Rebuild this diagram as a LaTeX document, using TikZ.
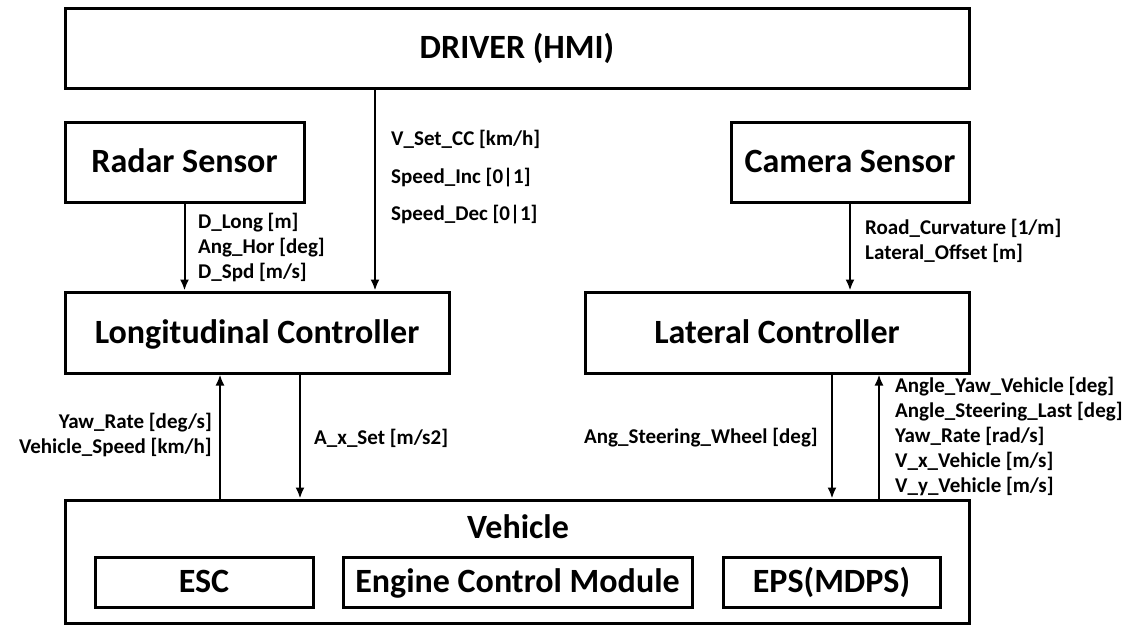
\documentclass[tikz,border=0pt]{standalone}
\usepackage{fontspec}
\setmainfont{Carlito}
\usetikzlibrary{arrows.meta}
\begin{document}
\begin{tikzpicture}[x=1pt,y=-1pt,
  blk/.style={draw=black,line width=3pt,rectangle,inner sep=0pt,
    text height=21.4pt,text depth=0pt,
    font=\fontsize{34}{38}\selectfont\bfseries},
  title/.style={inner sep=0pt,text height=21.4pt,text depth=0pt,
    font=\fontsize{34}{38}\selectfont\bfseries},
  sig/.style={line width=2pt,-{Latex[length=11pt,width=9pt]}},
  lbl/.style={inner sep=0pt,font=\fontsize{21}{25}\selectfont\bfseries},
  lblwide/.style={inner sep=0pt,font=\fontsize{21}{37.5}\selectfont\bfseries}]
\useasboundingbox (0,0) rectangle (1133,625);

% blocks
\node[blk,minimum width=904,minimum height=80] (drv) at (517,48) {DRIVER (HMI)};
\node[blk,minimum width=239,minimum height=80] (radar) at (184.5,162) {Radar Sensor};
\node[blk,minimum width=238,minimum height=80] (cam) at (850,162) {Camera Sensor};
\node[blk,minimum width=384,minimum height=81] (lon) at (257,332.5) {Longitudinal Controller};
\node[blk,minimum width=384,minimum height=81] (lat) at (777,332.5) {Lateral Controller};
\node[blk,minimum width=904,minimum height=123] (veh) at (517,561.5) {};
\node[title] (vehtitle) at (518,528) {Vehicle};
\node[blk,minimum width=218,minimum height=50] (esc) at (204,582) {ESC};
\node[blk,minimum width=349,minimum height=50] (ecm) at (517.5,582) {Engine Control Module};
\node[blk,minimum width=217,minimum height=50] (eps) at (831.5,582) {EPS(MDPS)};

% x positions of the signal lines
\coordinate (xdrv) at (375,0);
\coordinate (xup) at (220,0);
\coordinate (xdn) at (300,0);
\coordinate (xsteer) at (832,0);
\coordinate (xfb) at (879,0);

% signals
\draw[sig] (radar.south) -- (lon.north -| radar.south);
\draw[sig] (drv.south -| xdrv) -- (lon.north -| xdrv);
\draw[sig] (cam.south) -- (lat.north -| cam.south);
\draw[sig] (veh.north -| xup) -- (lon.south -| xup);
\draw[sig] (lon.south -| xdn) -- (veh.north -| xdn);
\draw[sig] (lat.south -| xsteer) -- (veh.north -| xsteer);
\draw[sig] (veh.north -| xfb) -- (lat.south -| xfb);

% signal labels
\node[lblwide,anchor=west,align=left] (ldrv) at (391,177.5)
  {V\_Set\_CC [km/h]\\Speed\_Inc [0|1]\\Speed\_Dec [0|1]};
\node[lbl,anchor=west,align=left] (lradar) at (198,247)
  {D\_Long [m]\\Ang\_Hor [deg]\\D\_Spd [m/s]};
\node[lbl,anchor=west,align=left] (lcam) at (865,241)
  {Road\_Curvature [1/m]\\Lateral\_Offset [m]};
\node[lbl,anchor=east,align=right] (lup) at (212,435)
  {Yaw\_Rate [deg/s]\\Vehicle\_Speed [km/h]};
\node[lbl,anchor=west] (ldn) at (314,438) {A\_x\_Set [m/s2]};
\node[lbl,anchor=east] (lsteer) at (818,438) {Ang\_Steering\_Wheel [deg]};
\node[lbl,anchor=west,align=left] (lfb) at (895,436.5)
  {Angle\_Yaw\_Vehicle [deg]\\Angle\_Steering\_Last [deg]\\Yaw\_Rate [rad/s]\\V\_x\_Vehicle [m/s]\\V\_y\_Vehicle [m/s]};
\end{tikzpicture}
\end{document}
